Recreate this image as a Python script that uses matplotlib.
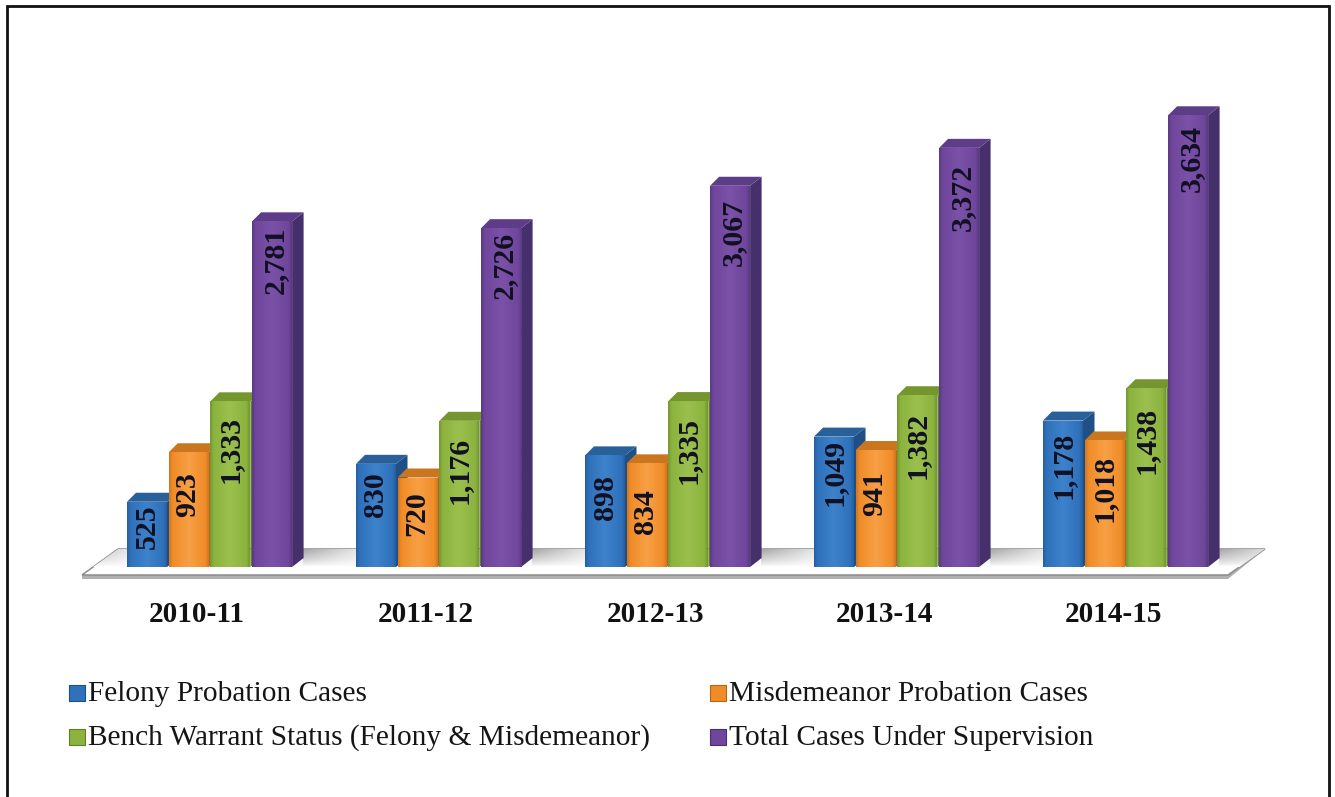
import numpy as np
import matplotlib
matplotlib.use("Agg")
import matplotlib.pyplot as plt
from matplotlib.colors import LinearSegmentedColormap, to_rgb
from matplotlib.patches import Polygon

plt.rcParams["font.family"] = ["Liberation Serif", "DejaVu Serif"]

# data
years = ["2010-11", "2011-12", "2012-13", "2013-14", "2014-15"]
felony = [525, 830, 898, 1049, 1178]
misdemeanor = [923, 720, 834, 941, 1018]
bench_warrant = [1333, 1176, 1335, 1382, 1438]
total_cases = [2781, 2726, 3067, 3372, 3634]
series_names = [
    "Felony Probation Cases",
    "Misdemeanor Probation Cases",
    "Bench Warrant Status (Felony & Misdemeanor)",
    "Total Cases Under Supervision",
]
series_values = [felony, misdemeanor, bench_warrant, total_cases]

# front, light, side, top
colors = [
    ("#2f71bb", "#3f82cc", "#1f4f85", "#2a6099"),
    ("#f08c28", "#f8a045", "#b5661c", "#c9761f"),
    ("#8bb33e", "#9cc04e", "#5f7f2a", "#75962f"),
    ("#6f469c", "#7a52a8", "#46306c", "#5d3c88"),
]

# where each label sits on its bar, pixel row of the label centre
label_rows = [
    [527, 495, 449, 260],
    [495, 514, 470, 265],
    [497, 512, 450, 232],
    [472, 494, 445, 197],
    [465, 488, 440, 158],
]
label_shift = [0, -1, 0, 3]

W, H = 1335, 797
fig = plt.figure(figsize=(W / 100, H / 100), dpi=100)
ax = fig.add_axes([0, 0, 1, 1])

px_per_case = 0.1243
group_px = 229
base_y = 567
first_x = 127


def to_x(px):
    return (px - first_x) / group_px


def to_y(py):
    return (base_y - py) / px_per_case


def set_limits():
    ax.set_xlim(to_x(0), to_x(W))
    ax.set_ylim(to_y(H), to_y(0))


set_limits()
ax.axis("off")

bar_w = 40 / group_px
bar_step = 41.7 / group_px
depth_x = 11.5 / group_px
depth_y = 9 / px_per_case
bevel_x = 9 / group_px

# floor
floor_pts = [(to_x(82), to_y(575)), (to_x(1228), to_y(575)), (to_x(1265), to_y(549)), (to_x(118), to_y(549))]
ax.add_patch(Polygon([(to_x(82), to_y(579)), (to_x(1228), to_y(579)), (to_x(1265), to_y(549)), (to_x(118), to_y(549)),
                      (to_x(82), to_y(575))], closed=True, fc="#b0b0b0", ec="none", zorder=1))
ax.add_patch(Polygon(floor_pts, closed=True, fc="white", ec="#8c8c8c", lw=1.1, zorder=1.05))

# soft shadow: heavy at the back edge and just right of each purple bar
rows = np.linspace(1, 0, 18)[:, None]
cols = np.arange(82, 1265)[None, :]
gap = (cols - 303) % group_px
across = np.clip(1 - gap / 75, 0.2, 1)
shade = LinearSegmentedColormap.from_list("shade", ["#ffffff", "#a8a8a8"])
floor_im = ax.imshow(rows ** 0.8 * across, cmap=shade, vmin=0, vmax=1, aspect="auto",
                     extent=(to_x(82), to_x(1265), to_y(567), to_y(549)), zorder=1.1)
floor_im.set_clip_path(Polygon(floor_pts, closed=True, transform=ax.transData))

for g, year in enumerate(years):
    for s, values in enumerate(series_values):
        v = values[g]
        x0 = g + s * bar_step
        x1 = x0 + bar_w
        front, light, side, top = colors[s]
        z = 2 + g + s * 0.1
        ax.add_patch(Polygon([(x1, 0), (x1 + depth_x, depth_y), (x1 + depth_x, v + depth_y), (x1, v)],
                             closed=True, fc=side, ec="none", zorder=z))
        ax.add_patch(Polygon([(x0, v), (x0 + bevel_x, v + depth_y), (x1 + depth_x, v + depth_y), (x1, v)],
                             closed=True, fc=top, ec="none", zorder=z))
        bars = ax.bar(x0, v, width=bar_w, align="edge", color=front, lw=0, zorder=z)
        edge = tuple((np.array(to_rgb(side)) + np.array(to_rgb(front))) / 2)
        grad = LinearSegmentedColormap.from_list(
            "g", [(0, edge), (0.08, front), (0.5, light), (0.92, front), (1, edge)])
        im = ax.imshow(np.linspace(0, 1, 40).reshape(1, -1), cmap=grad, aspect="auto",
                       extent=(x0, x1, 0, v), zorder=z + 0.01)
        im.set_clip_path(bars[0])
        ax.text(x0 + bar_w / 2 + label_shift[s] / group_px, to_y(label_rows[g][s]), f"{v:,}", rotation=90,
                ha="center", va="center", fontsize=21.5, fontweight="bold", color="#111122", zorder=z + 0.02)
    ax.text(g + 70 / group_px, to_y(615), year, ha="center", va="center",
            fontsize=21, fontweight="bold", color="#111111")
set_limits()

# legend written by hand because the layout is two loose columns
legend_pos = [(69, 693), (710, 693), (69, 737), (710, 737)]
for (px, py), name, style in zip(legend_pos, series_names, colors):
    ax.scatter([to_x(px + 8)], [to_y(py)], marker="s", s=120, color=style[0], edgecolor=style[2], lw=0.8, zorder=10)
    ax.text(to_x(px + 19), to_y(py + 1), name, ha="left", va="center", fontsize=21.2, color="#151515", zorder=10)

# picture frame, no bottom edge in the reference
fig.add_artist(plt.Rectangle((6.5 / W, -0.01), (W - 13) / W, 1 - 6 / H + 0.01, fill=False, ec="#111111", lw=2,
                             transform=fig.transFigure))

fig.savefig("out.png", dpi=100)
